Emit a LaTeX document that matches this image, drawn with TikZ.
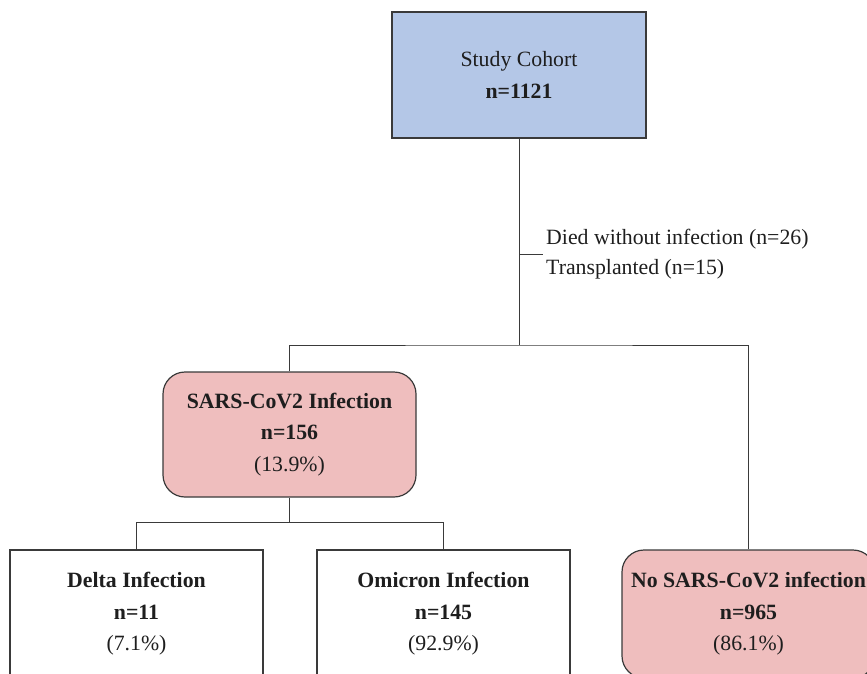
\documentclass[tikz,border=0pt]{standalone}
\usepackage{fontspec}
\setmainfont{Liberation Serif}
\definecolor{cohortblue}{HTML}{B4C7E7}
\definecolor{pinkfill}{HTML}{EFBEBE}
\definecolor{linegray}{HTML}{3A3A3A}
\definecolor{textgray}{HTML}{1E1E1E}
\tikzset{
  basebox/.style={draw=linegray, line width=1.2pt, minimum width=253pt, minimum height=128pt,
    align=center, inner sep=0pt, text=textgray, font=\fontsize{21.8}{31.5}\selectfont},
  bluebox/.style={basebox, fill=cohortblue, minimum width=254pt, minimum height=126pt},
  pinkbox/.style={basebox, fill=pinkfill, rounded corners=22pt},
  whitebox/.style={basebox, fill=white},
  conn/.style={draw=linegray, line width=1pt},
  sidetext/.style={align=left, inner sep=0pt, text=textgray, font=\fontsize{21.8}{30}\selectfont, anchor=west}
}
\begin{document}
\begin{tikzpicture}[x=1pt, y=-1pt]
\useasboundingbox (0,0) rectangle (867,673);
\node[bluebox] (cohort) at (519,75) {Study Cohort\\\textbf{n=1121}};
\node[pinkbox, minimum height=125pt] (sars) at (289.5,434.5) {\textbf{SARS-CoV2 Infection}\\\textbf{n=156}\\(13.9\%)};
\node[whitebox] (delta) at (136.5,614) {\textbf{Delta Infection}\\\textbf{n=11}\\(7.1\%)};
\node[whitebox] (omicron) at (443.5,614) {\textbf{Omicron Infection}\\\textbf{n=145}\\(92.9\%)};
\node[pinkbox] (nosars) at (748.5,614) {\textbf{No SARS-CoV2 infection}\\\textbf{n=965}\\(86.1\%)};
\coordinate (j1) at (519,345);
\coordinate (t0) at (519,254);
\coordinate (t1) at (543,254);
\coordinate (j2) at (289.5,522);
\node[sidetext] (excl) at (546,254) {Died without infection (n=26)\\Transplanted (n=15)};
\draw[conn] (cohort.south) -- (j1);
\draw[conn] (t0) -- (t1);
\draw[conn] (sars.north) |- (j1) -| (nosars.north);
\draw[conn] (sars.south) -- (j2);
\draw[conn] (delta.north) |- (j2) -| (omicron.north);
\end{tikzpicture}
\end{document}
